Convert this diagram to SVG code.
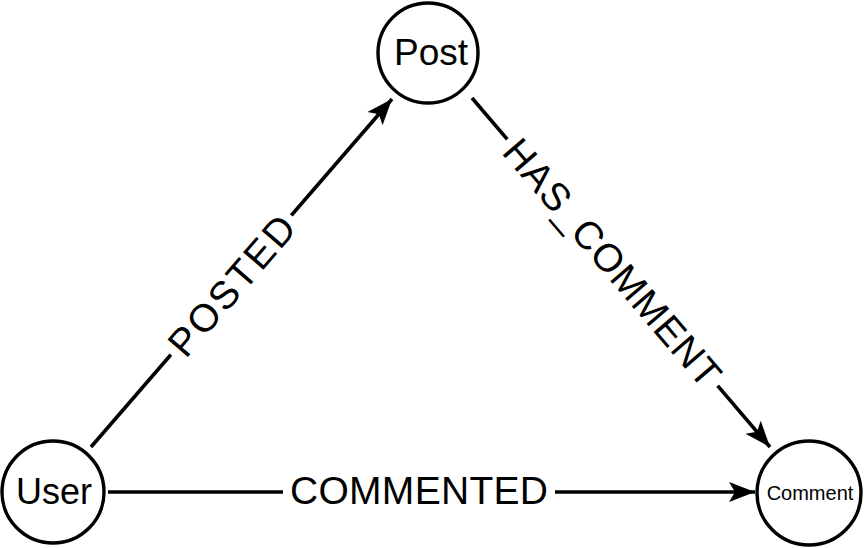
<svg xmlns="http://www.w3.org/2000/svg" width="864" height="548" viewBox="0 0 864 548">
<defs>
<style>
.node{fill:#fff;stroke:#000;stroke-width:3.4}
.edge{stroke:#000;stroke-width:3.6;fill:none}
text{font-family:"Liberation Sans",Arial,sans-serif;fill:#000;text-anchor:middle;dominant-baseline:central}
.lbl{font-size:39px}
.bg{fill:#fff}
</style>
<marker id="arr" markerUnits="userSpaceOnUse" markerWidth="28" markerHeight="22" viewBox="0 0 28 22" refX="26" refY="11" orient="auto">
<path d="M0,1 L26,11 L0,21 L6,11 Z" fill="#000"/>
</marker>
</defs>
<rect width="864" height="548" fill="#fff"/>
<g id="connectors">
<g id="edge-posted">
<line class="edge" x1="91" y1="447" x2="392" y2="99" marker-end="url(#arr)"/>
<g transform="translate(231,285) rotate(-49.2)">
<rect class="bg" x="-92" y="-18" width="184" height="36"/>
<text class="lbl" x="0" y="1" textLength="172" lengthAdjust="spacing">POSTED</text>
</g>
</g>
<g id="edge-has-comment">
<line class="edge" x1="472" y1="98" x2="770" y2="447" marker-end="url(#arr)"/>
<g transform="translate(613,262) rotate(49.5)">
<rect class="bg" x="-162" y="-18" width="324" height="36"/>
<text class="lbl" x="0" y="1" textLength="312" lengthAdjust="spacing">HAS_COMMENT</text>
</g>
</g>
<g id="edge-commented">
<line class="edge" x1="108" y1="492" x2="755" y2="492" marker-end="url(#arr)"/>
<rect class="bg" x="283" y="474" width="272" height="36"/>
<text class="lbl" x="419" y="490" textLength="258" lengthAdjust="spacing">COMMENTED</text>
</g>
</g>
<g id="node-post">
<circle class="node" cx="428" cy="53" r="50"/>
<text x="431" y="52" style="font-size:37px">Post</text>
</g>
<g id="node-user">
<circle class="node" cx="53" cy="492" r="51"/>
<text x="54" y="491" style="font-size:36px">User</text>
</g>
<g id="node-comment">
<circle class="node" cx="809" cy="493" r="52"/>
<text x="810" y="493" style="font-size:20px">Comment</text>
</g>
</svg>
